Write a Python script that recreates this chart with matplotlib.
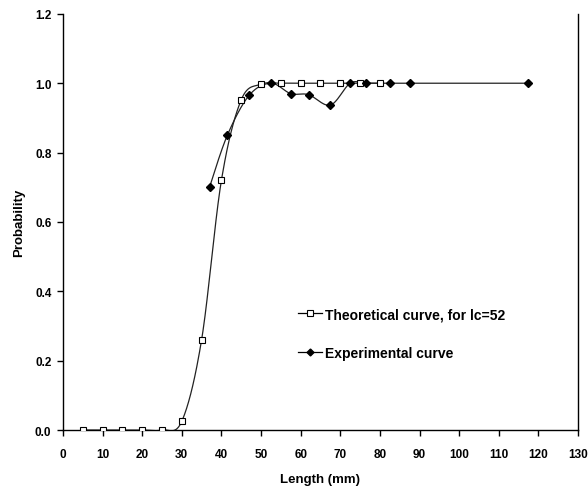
import numpy as np
import matplotlib
matplotlib.use("Agg")
import matplotlib.pyplot as plt
from matplotlib.lines import Line2D

# Data
theo_x = [5, 10, 15, 20, 25, 30, 35, 40, 45, 50, 55, 60, 65, 70, 75, 80]
theo_y = [0.0, 0.0, 0.0, 0.0, 0.0, 0.025, 0.26, 0.72, 0.952, 0.997, 1.0, 1.0, 1.0, 1.0, 1.0, 1.0]
exp_x = [37, 41.5, 47, 52.5, 57.5, 62, 67.5, 72.5, 76.5, 82.5, 87.5, 117.5]
exp_y = [0.70, 0.85, 0.965, 1.0, 0.97, 0.967, 0.937, 1.0, 1.0, 1.0, 1.0, 1.0]
x_ticks = list(range(0, 131, 10))
y_ticks = [0.0, 0.2, 0.4, 0.6, 0.8, 1.0, 1.2]
theo_label = "Theoretical curve, for lc=52"
exp_label = "Experimental curve"


def smooth(xs, ys, n=30):
    """Excel-like smoothed line (cubic Bezier, Catmull-Rom control points)."""
    P = np.column_stack([xs, ys]).astype(float)
    m = len(P)
    out = []
    for i in range(m - 1):
        p0 = P[i - 1] if i > 0 else P[i]
        p1 = P[i]
        p2 = P[i + 1]
        p3 = P[i + 2] if i + 2 < m else P[i + 1]
        c1 = p1 + (p2 - p0) / 6.0
        c2 = p2 - (p3 - p1) / 6.0
        t = np.linspace(0, 1, n)[:, None]
        seg = ((1 - t) ** 3) * p1 + 3 * ((1 - t) ** 2) * t * c1 + 3 * (1 - t) * t ** 2 * c2 + t ** 3 * p2
        out.append(seg if i == 0 else seg[1:])
    out = np.vstack(out)
    return out[:, 0], out[:, 1]


plt.rcParams['font.family'] = ['Liberation Sans', 'DejaVu Sans']
fig = plt.figure(figsize=(5.88, 4.89), dpi=100)
ax = fig.add_axes([0.107, 0.1186, 0.876, 0.851])

sx, sy = smooth(theo_x, theo_y)
ax.plot(sx, sy, color='#222222', lw=0.9, zorder=2)
ax.plot(theo_x, theo_y, ls='none', marker='s', ms=5, mfc='white', mec='black', mew=0.8, zorder=4)

ex, ey = smooth(exp_x, exp_y)
ax.plot(ex, ey, color='#222222', lw=0.9, zorder=2)
ax.plot(exp_x, exp_y, ls='none', marker='D', ms=4, mfc='black', mec='black', zorder=5)

ax.set_xlim(0, 130)
ax.set_ylim(0, 1.2)
ax.set_xticks(x_ticks)
ax.set_yticks(y_ticks)
ax.set_xticklabels([str(v) for v in x_ticks], fontsize=8.5, fontweight='bold')
ax.set_yticklabels([f"{v:.1f}" for v in y_ticks], fontsize=8.5, fontweight='bold')
ax.tick_params(direction='out', length=4, width=1)
ax.tick_params(axis='x', pad=9)
ax.tick_params(axis='y', pad=4.3)
ax.spines['top'].set_visible(False)
for s in ['left', 'bottom', 'right']:
    ax.spines[s].set_linewidth(1)
ax.set_xlabel('Length (mm)', fontsize=9.5, fontweight='bold', labelpad=9)
ax.set_ylabel('Probability', fontsize=9.5, fontweight='bold', labelpad=7)

handles = [
    Line2D([], [], color='black', lw=0.9, marker='s', ms=4, mfc='white', mec='black', mew=0.8),
    Line2D([], [], color='black', lw=0.9, marker='D', ms=3.5, mfc='black', mec='black'),
]
ax.legend(handles, [theo_label, exp_label], loc='upper left',
          bbox_to_anchor=(0.432, 0.325), frameon=False,
          prop={'weight': 'bold', 'size': 10}, labelspacing=1.75,
          handlelength=1.75, handletextpad=0.2)

fig.savefig('out.png', dpi=100)
